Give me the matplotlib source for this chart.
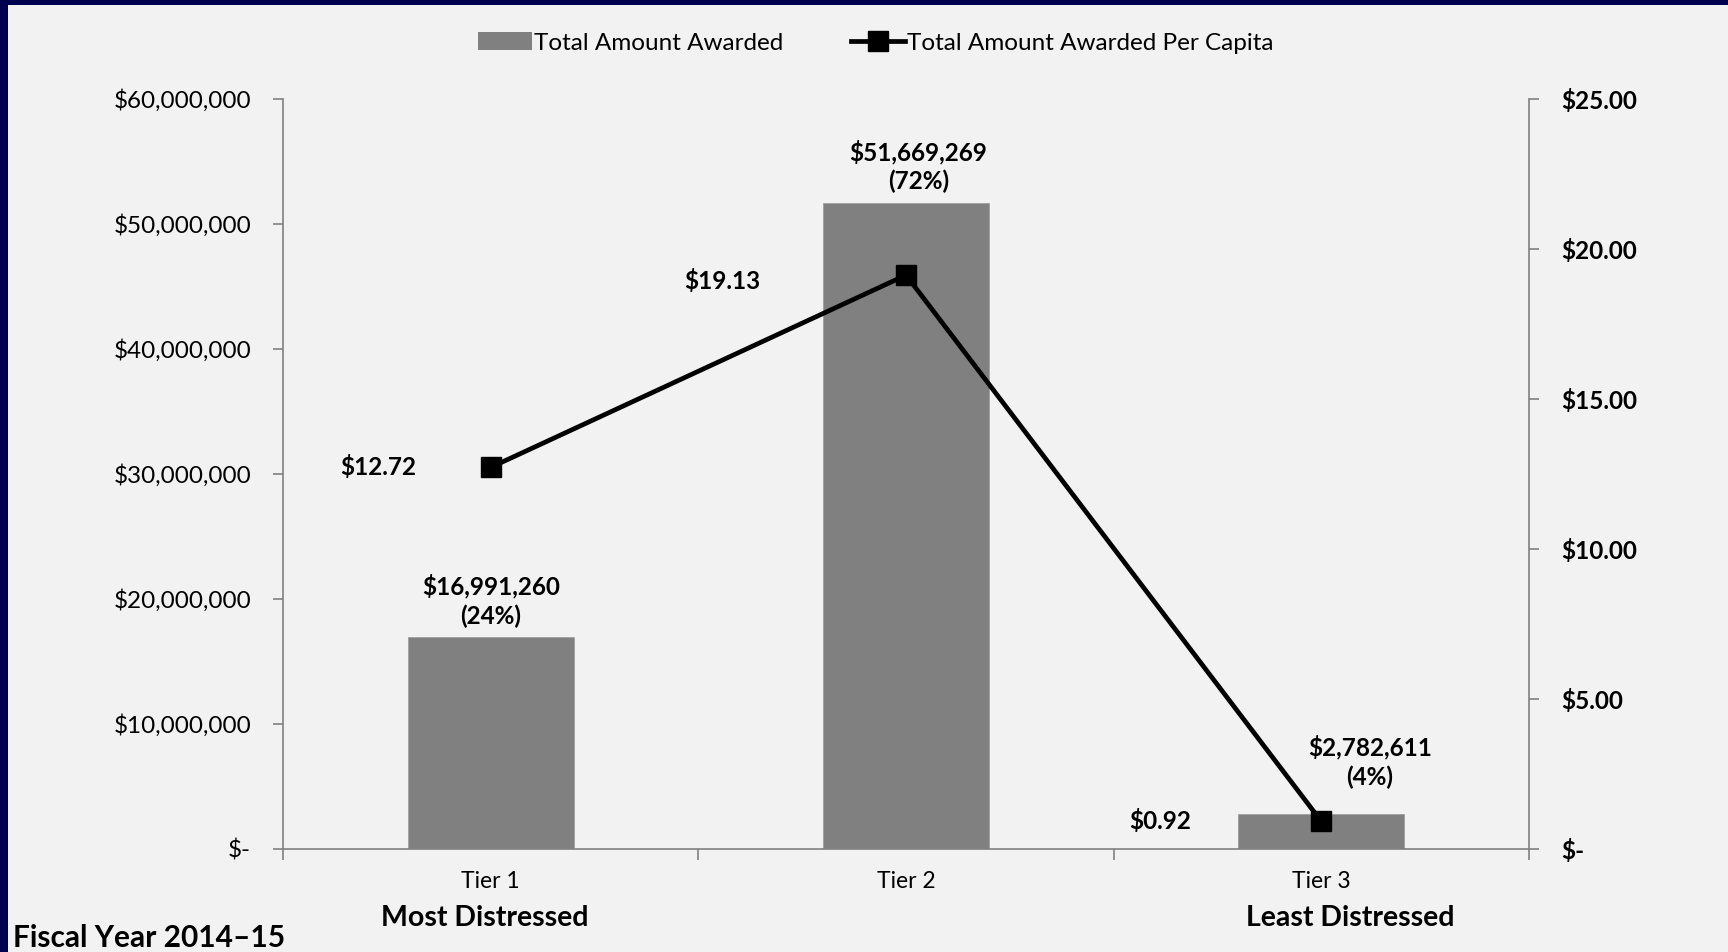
import matplotlib
matplotlib.use("Agg")
import matplotlib.pyplot as plt
from matplotlib.ticker import FuncFormatter, FixedLocator
from matplotlib.patches import Rectangle, Patch
from matplotlib.lines import Line2D

plt.rcParams['font.family'] = ['Lato', 'DejaVu Sans']

# data
tiers = ['Tier 1', 'Tier 2', 'Tier 3']
amount_awarded = [16991260, 51669269, 2782611]
amount_share = ['24%', '72%', '4%']
per_capita = [12.72, 19.13, 0.92]

# label nudges (points)
bar_lbl_dx = [0, 9, 35]
bar_lbl_dy = [6, 7, 18]
line_lbl_dx = [-81, -132, -116]
line_lbl_dy = [0, -4, 0]

BG = '#f2f2f2'
NAVY = '#000050'
GREY = '#808080'

fig = plt.figure(figsize=(17.28, 9.52), dpi=100)
fig.patch.set_facecolor(NAVY)
# light panel inside the navy frame (frame only at top and left)
fig.patches.append(Rectangle((8 / 1728, 0), 1, 1 - 5 / 952, transform=fig.transFigure,
                             facecolor=BG, edgecolor='none', zorder=-10))

ax = fig.add_axes([283 / 1728, 1 - 849 / 952, (1529 - 283) / 1728, 750 / 952])
ax.set_facecolor('none')
x = list(range(len(tiers)))
ax.bar(x, amount_awarded, width=0.4, color=GREY, edgecolor='#a0a0a0', linewidth=0.6, zorder=2)
ax.set_xlim(-0.5, 2.5)
ax.set_ylim(0, 60000000)
ax.set_yticks(range(0, 60000001, 10000000))
ax.yaxis.set_major_formatter(FuncFormatter(lambda v, p: '$-' if v == 0 else '${:,.0f}'.format(v)))
ax.set_xticks(x)
ax.set_xticklabels(tiers, fontsize=16.5)
ax.xaxis.set_minor_locator(FixedLocator([-0.5, 0.5, 1.5, 2.5]))
ax.tick_params(axis='x', which='major', length=0, pad=16)
ax.tick_params(axis='x', which='minor', length=8, width=1.2, color=GREY, direction='out')
ax.tick_params(axis='y', length=7, width=1.2, color=GREY, labelsize=17.5, pad=16)
for s in ['top', 'right']:
    ax.spines[s].set_visible(False)
for s in ['left', 'bottom']:
    ax.spines[s].set_color(GREY)
    ax.spines[s].set_linewidth(1.2)

for i in x:
    ax.annotate('${:,.0f}\n({})'.format(amount_awarded[i], amount_share[i]),
                xy=(i, amount_awarded[i]), xytext=(bar_lbl_dx[i], bar_lbl_dy[i]),
                textcoords='offset points', ha='center', va='bottom',
                fontsize=17.5, fontweight='bold', linespacing=1.3)

ax2 = ax.twinx()
ax2.plot(x, per_capita, color='black', linewidth=3.4, marker='s', markersize=14, zorder=3)
ax2.set_ylim(0, 25)
ax2.set_yticks([0, 5, 10, 15, 20, 25])
ax2.yaxis.set_major_formatter(FuncFormatter(lambda v, p: '$-' if v == 0 else '${:.2f}'.format(v)))
ax2.tick_params(axis='y', length=7, width=1.2, color=GREY, labelsize=17.5, pad=16)
for lbl in ax2.get_yticklabels():
    lbl.set_fontweight('bold')
for s in ['top', 'left', 'bottom']:
    ax2.spines[s].set_visible(False)
ax2.spines['right'].set_color(GREY)
ax2.spines['right'].set_linewidth(1.2)

for i in x:
    ax2.annotate('${:.2f}'.format(per_capita[i]), xy=(i, per_capita[i]),
                 xytext=(line_lbl_dx[i], line_lbl_dy[i]), textcoords='offset points',
                 ha='center', va='center', fontsize=17.5, fontweight='bold')

# legend
handles = [Patch(facecolor=GREY, edgecolor='none'),
           Line2D([], [], color='black', linewidth=3.4, marker='s', markersize=14)]
fig.legend(handles, ['Total Amount Awarded', 'Total Amount Awarded Per Capita'],
           loc='center', bbox_to_anchor=(876 / 1728, 1 - 43 / 952), ncol=2, frameon=False,
           fontsize=17.5, handlelength=2.2, handletextpad=0.1, columnspacing=2.8)

fig.text(485 / 1728, 1 - 918 / 952, 'Most Distressed', ha='center', va='center',
         fontsize=20.5, fontweight='bold')
fig.text(1350 / 1728, 1 - 918 / 952, 'Least Distressed', ha='center', va='center',
         fontsize=20.5, fontweight='bold')
fig.text(13 / 1728, 1 - 938 / 952, 'Fiscal Year 2014\u201315', ha='left', va='center',
         fontsize=21.5, fontweight='bold')

fig.savefig('out.png', dpi=100, facecolor=fig.get_facecolor())
